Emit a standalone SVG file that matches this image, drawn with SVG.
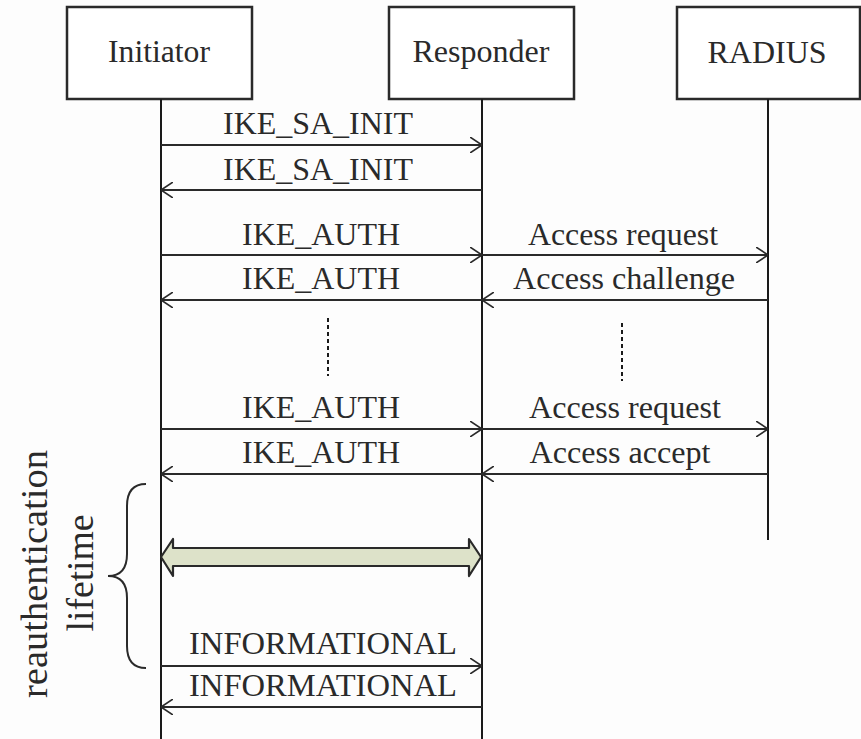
<svg xmlns="http://www.w3.org/2000/svg" width="861" height="739" viewBox="0 0 861 739">
  <style>
    .box { fill: #ffffff; stroke: #2a2a2a; stroke-width: 2.5; }
    .life { stroke: #1a1a1a; stroke-width: 2; fill: none; }
    .msg { stroke: #2a2a2a; stroke-width: 2.2; fill: none; marker-end: url(#arr); }
    .dash { stroke: #1a1a1a; stroke-width: 2; stroke-dasharray: 4 3; fill: none; }
    .hdr { font-family: "Liberation Serif", "Times New Roman", serif; font-size: 32px; fill: #2a2a2a; text-anchor: middle; }
    .lbl { font-family: "Liberation Serif", "Times New Roman", serif; font-size: 31px; fill: #2a2a2a; text-anchor: middle; }
    .side { font-family: "Liberation Serif", "Times New Roman", serif; font-size: 38px; fill: #2a2a2a; text-anchor: middle; }
  </style>
  <defs>
    <marker id="arr" viewBox="0 0 12 16" refX="12" refY="8" markerWidth="12" markerHeight="16" markerUnits="userSpaceOnUse" orient="auto">
      <path d="M0,0 L12,8 L0,16" fill="none" stroke="#2a2a2a" stroke-width="1.6"/>
    </marker>
  </defs>
  <rect width="861" height="739" fill="#fdfdfd"/>

  <g id="initiator">
    <rect class="box" x="67" y="7" width="185" height="92"/>
    <text class="hdr" x="159" y="62" textLength="102" lengthAdjust="spacingAndGlyphs">Initiator</text>
    <line class="life" x1="161" y1="99" x2="161" y2="739"/>
  </g>
  <g id="responder">
    <rect class="box" x="389" y="7" width="185" height="92"/>
    <text class="hdr" x="481" y="62" textLength="137" lengthAdjust="spacingAndGlyphs">Responder</text>
    <line class="life" x1="482" y1="99" x2="482" y2="739"/>
  </g>
  <g id="radius">
    <rect class="box" x="677" y="7" width="183" height="92"/>
    <text class="hdr" x="767" y="63" textLength="119" lengthAdjust="spacingAndGlyphs">RADIUS</text>
    <line class="life" x1="768" y1="99" x2="768" y2="540"/>
  </g>

  <g id="connectors">
    <line class="msg" x1="161" y1="145" x2="482" y2="145"/>
    <line class="msg" x1="482" y1="190" x2="161" y2="190"/>
    <line class="msg" x1="161" y1="255" x2="482" y2="255"/>
    <line class="msg" x1="482" y1="255" x2="768" y2="255"/>
    <line class="msg" x1="482" y1="300" x2="161" y2="300"/>
    <line class="msg" x1="768" y1="300" x2="482" y2="300"/>
    <line class="dash" x1="328" y1="318" x2="328" y2="376"/>
    <line class="dash" x1="622" y1="323" x2="622" y2="381"/>
    <line class="msg" x1="161" y1="429" x2="482" y2="429"/>
    <line class="msg" x1="482" y1="429" x2="768" y2="429"/>
    <line class="msg" x1="482" y1="474" x2="161" y2="474"/>
    <line class="msg" x1="768" y1="474" x2="482" y2="474"/>
    <line class="msg" x1="161" y1="666" x2="482" y2="666"/>
    <line class="msg" x1="482" y1="707" x2="161" y2="707"/>
  </g>

  <g id="labels">
    <text class="lbl" x="318" y="134" textLength="190" lengthAdjust="spacingAndGlyphs">IKE_SA_INIT</text>
    <text class="lbl" x="318" y="180" textLength="190" lengthAdjust="spacingAndGlyphs">IKE_SA_INIT</text>
    <text class="lbl" x="321" y="245" textLength="158" lengthAdjust="spacingAndGlyphs">IKE_AUTH</text>
    <text class="lbl" x="623" y="245" textLength="190" lengthAdjust="spacingAndGlyphs">Access request</text>
    <text class="lbl" x="321" y="289" textLength="158" lengthAdjust="spacingAndGlyphs">IKE_AUTH</text>
    <text class="lbl" x="624" y="289" textLength="222" lengthAdjust="spacingAndGlyphs">Access challenge</text>
    <text class="lbl" x="321" y="418" textLength="158" lengthAdjust="spacingAndGlyphs">IKE_AUTH</text>
    <text class="lbl" x="625" y="418" textLength="192" lengthAdjust="spacingAndGlyphs">Access request</text>
    <text class="lbl" x="321" y="463" textLength="158" lengthAdjust="spacingAndGlyphs">IKE_AUTH</text>
    <text class="lbl" x="620" y="463" textLength="181" lengthAdjust="spacingAndGlyphs">Access accept</text>
    <text class="lbl" x="323" y="654" textLength="268" lengthAdjust="spacingAndGlyphs">INFORMATIONAL</text>
    <text class="lbl" x="323" y="696" textLength="268" lengthAdjust="spacingAndGlyphs">INFORMATIONAL</text>
  </g>

  <g id="session">
    <path d="M161,557 L173,539 L173,548 L469,548 L469,539 L481,557 L469,576 L469,566 L173,566 L173,576 Z" fill="#dde2c9" stroke="#2a2a2a" stroke-width="2.2" stroke-linejoin="round"/>
  </g>

  <g id="lifetime">
    <path d="M146,484 Q127,484 127,506 L127,554 Q127,576 108,576 Q127,576 127,598 L127,646 Q127,668 146,668" fill="none" stroke="#2a2a2a" stroke-width="2"/>
    <text class="side" transform="translate(47,574) rotate(-90)" textLength="248" lengthAdjust="spacingAndGlyphs">reauthentication</text>
    <text class="side" transform="translate(93,573) rotate(-90)" textLength="117" lengthAdjust="spacingAndGlyphs">lifetime</text>
  </g>
</svg>
